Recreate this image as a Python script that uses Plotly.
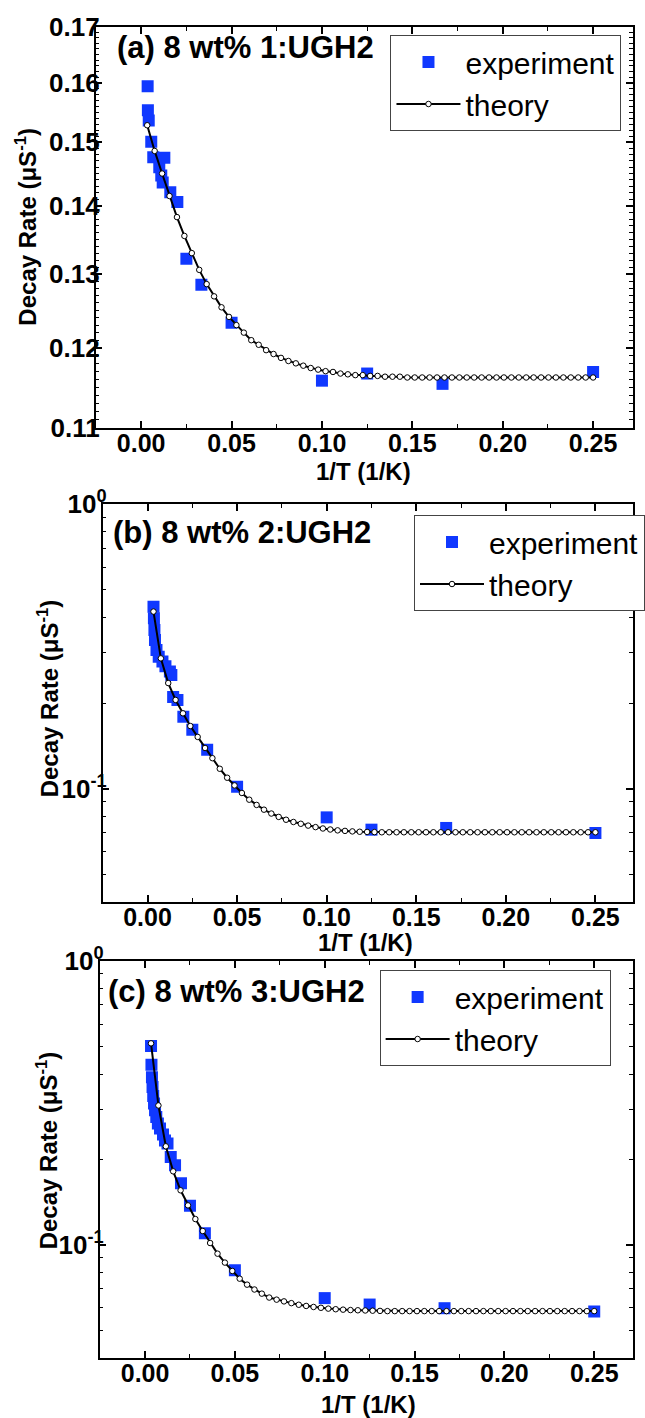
import plotly.graph_objects as go
import numpy as np

# ---------------- data ----------------
THEORY_X = [0.00333, 0.00744, 0.01156, 0.01567, 0.01978, 0.02389, 0.02800, 0.03211, 0.03622, 0.04033,
            0.04444, 0.04856, 0.05267, 0.05678, 0.06089, 0.06500, 0.06911, 0.07322, 0.07733, 0.08144,
            0.08556, 0.08967, 0.09378, 0.09789, 0.10200, 0.10611, 0.11022, 0.11433, 0.11844, 0.12256,
            0.12667, 0.13078, 0.13489, 0.13900, 0.14311, 0.14722, 0.15133, 0.15544, 0.15956, 0.16367,
            0.16778, 0.17189, 0.17600, 0.18011, 0.18422, 0.18833, 0.19244, 0.19656, 0.20067, 0.20478,
            0.20889, 0.21300, 0.21711, 0.22122, 0.22533, 0.22944, 0.23356, 0.23767, 0.24178, 0.24589,
            0.25000]

A_EXP_X = [0.00357, 0.00370, 0.00417, 0.00556, 0.00667, 0.0100, 0.0111, 0.0128, 0.0119, 0.0161,
           0.0200, 0.0250, 0.0333, 0.0500, 0.1000, 0.1250, 0.1667, 0.2500]
A_EXP_Y = [0.1594, 0.1553, 0.1536, 0.1501, 0.1476, 0.1460, 0.1447, 0.1475, 0.1436, 0.1421,
           0.1406, 0.1322, 0.1285, 0.1233, 0.1158, 0.1167, 0.1154, 0.1169]
A_TH_Y = [0.1528, 0.1486, 0.1450, 0.1415, 0.1383, 0.1355, 0.1330, 0.1306, 0.1286, 0.1269,
          0.1254, 0.1241, 0.1230, 0.1220, 0.1210, 0.1204, 0.1197, 0.1192, 0.1187, 0.1183,
          0.1180, 0.1177, 0.1174, 0.1172, 0.1170, 0.1169, 0.1167, 0.1166, 0.1165, 0.1165,
          0.1164, 0.1164, 0.1163, 0.1163, 0.1163, 0.1162, 0.1162, 0.1162, 0.1162, 0.1162,
          0.1162, 0.1162, 0.1162, 0.1162, 0.1162, 0.1162, 0.1162, 0.1162, 0.1162, 0.1162,
          0.1162, 0.1162, 0.1162, 0.1162, 0.1162, 0.1162, 0.1162, 0.1162, 0.1162, 0.1162,
          0.1162]

B_EXP_X = [0.00333, 0.00357, 0.00385, 0.00417, 0.00500, 0.00625, 0.00833, 0.0100, 0.0125, 0.0133,
           0.0143, 0.0167, 0.0200, 0.0250, 0.0333, 0.0500, 0.1000, 0.1250, 0.1667, 0.2500]
B_EXP_Y = [0.436, 0.397, 0.361, 0.333, 0.307, 0.291, 0.280, 0.269, 0.258, 0.251,
           0.210, 0.205, 0.179, 0.161, 0.137, 0.1016, 0.0793, 0.0718, 0.0728, 0.0699]
B_TH_Y = [0.419, 0.287, 0.235, 0.205, 0.184, 0.166, 0.152, 0.139, 0.128, 0.1175,
          0.1093, 0.1027, 0.0966, 0.0915, 0.0877, 0.0844, 0.0818, 0.0796, 0.0778, 0.0764,
          0.0753, 0.0742, 0.0733, 0.0725, 0.0719, 0.0714, 0.0711, 0.0708, 0.0706, 0.0705,
          0.0704, 0.0703, 0.0703, 0.0703, 0.0703, 0.0703, 0.0703, 0.0703, 0.0703, 0.0703,
          0.0703, 0.0703, 0.0703, 0.0703, 0.0703, 0.0703, 0.0703, 0.0703, 0.0703, 0.0703,
          0.0703, 0.0703, 0.0703, 0.0703, 0.0703, 0.0703, 0.0703, 0.0703, 0.0703, 0.0703,
          0.0703]

C_EXP_X = [0.00333, 0.00357, 0.00385, 0.00417, 0.00455, 0.00500, 0.00556, 0.00625, 0.00714, 0.00833,
           0.0100, 0.0111, 0.0125, 0.0143, 0.0167, 0.0200, 0.0250, 0.0333, 0.0500, 0.1000,
           0.1250, 0.1667, 0.2500]
C_EXP_Y = [0.502, 0.431, 0.390, 0.360, 0.335, 0.315, 0.298, 0.282, 0.268, 0.257,
           0.245, 0.2335, 0.2275, 0.204, 0.1908, 0.1650, 0.1375, 0.1100, 0.0815, 0.0650,
           0.0617, 0.0599, 0.0583]
C_TH_Y = [0.513, 0.310, 0.2226, 0.1817, 0.1558, 0.1379, 0.1234, 0.1120, 0.1016, 0.0932,
          0.0867, 0.0810, 0.0761, 0.0725, 0.0697, 0.0674, 0.0653, 0.0642, 0.0633, 0.0624,
          0.0616, 0.0610, 0.0605, 0.0601, 0.0597, 0.0594, 0.0592, 0.0590, 0.0589, 0.0588,
          0.0587, 0.0586, 0.0585, 0.0585, 0.0585, 0.0585, 0.0585, 0.0585, 0.0585, 0.0585,
          0.0585, 0.0585, 0.0585, 0.0585, 0.0585, 0.0585, 0.0585, 0.0585, 0.0585, 0.0585,
          0.0585, 0.0585, 0.0585, 0.0585, 0.0585, 0.0585, 0.0585, 0.0585, 0.0585, 0.0585,
          0.0585]

X_TICK_VALS = [0.00, 0.05, 0.10, 0.15, 0.20, 0.25]
X_TICK_TEXT = ["0.00", "0.05", "0.10", "0.15", "0.20", "0.25"]
A_Y_TICK_VALS = [0.11, 0.12, 0.13, 0.14, 0.15, 0.16, 0.17]
A_Y_TICK_TEXT = ["0.11", "0.12", "0.13", "0.14", "0.15", "0.16", "0.17"]
LOG_TICK_VALS = [0.1, 1.0]
LOG_TICK_TEXT = ["10<sup>-1</sup>", "10<sup>0</sup>"]
LOG_MINOR_VALS = [0.04, 0.05, 0.06, 0.07, 0.08, 0.09, 0.2, 0.3, 0.4, 0.5, 0.6, 0.7, 0.8, 0.9]
A_MINOR_VALS = [round(0.11 + 0.001 * i, 3) for i in range(61)]

PANEL_TITLES = ["(a) 8 wt% 1:UGH2", "(b) 8 wt% 2:UGH2", "(c) 8 wt% 3:UGH2"]
SERIES_NAMES = ["experiment", "theory"]
X_TITLE = "1/T (1/K)"
Y_TITLE = "Decay Rate (\u03bcS<sup>-1</sup>)"

# ---------------- layout geometry ----------------
W, H = 645, 1418
FONT = "Liberation Sans, Arial, sans-serif"
BLUE = "#1038ff"

# (left, right, top, bottom) in px of each plot frame
FRAMES = [(97, 642, 27, 428), (104, 642, 504, 902), (101, 642, 961, 1358)]
XRANGES = [[-0.0252, 0.2721], [-0.0251, 0.2710], [-0.0253, 0.2716]]
YRANGES = [[np.log10(0.11), np.log10(0.17)], [np.log10(0.04), 0.0], [np.log10(0.04), 0.0]]
LEGEND_POS = [(396, 35), (420, 515), (385, 970)]
TITLE_POS = [(117, 48), (113, 532), (108, 991)]
XTITLE_POS = [(369, 471), (371, 942), (374, 1404)]
YTITLE_POS = [(26, 227), (49, 698), (48, 1150)]

fig = go.Figure()

panels = [(A_EXP_X, A_EXP_Y, A_TH_Y), (B_EXP_X, B_EXP_Y, B_TH_Y), (C_EXP_X, C_EXP_Y, C_TH_Y)]
for i, (ex, ey, ty) in enumerate(panels):
    sfx = "" if i == 0 else str(i + 1)
    leg = "legend" + sfx
    fig.add_trace(go.Scatter(
        x=ex, y=ey, mode="markers", name=SERIES_NAMES[0],
        marker=dict(symbol="square", size=12, color=BLUE, line=dict(width=0)),
        xaxis="x" + sfx, yaxis="y" + sfx, legend=leg))
    fig.add_trace(go.Scatter(
        x=THEORY_X, y=ty, mode="lines+markers", name=SERIES_NAMES[1],
        line=dict(color="black", width=2),
        marker=dict(symbol="circle", size=5.5, color="white", line=dict(color="black", width=1)),
        xaxis="x" + sfx, yaxis="y" + sfx, legend=leg))

layout = dict(
    width=W, height=H,
    margin=dict(l=0, r=0, t=0, b=0),
    paper_bgcolor="white", plot_bgcolor="white",
    font=dict(family=FONT, color="black"),
    annotations=[],
)

common = dict(
    showline=True, linecolor="black", linewidth=1.6, mirror="allticks",
    ticks="inside", ticklen=7, tickwidth=1.5, tickcolor="black",
    showgrid=False, zeroline=False, automargin=False,
)

TITLE_FONT = dict(family=FONT, size=24, color="black", weight="bold")

for i in range(3):
    sfx = "" if i == 0 else str(i + 1)
    l, r, t, b = FRAMES[i]
    xa = dict(common)
    xa.update(
        domain=[l / W, r / W], range=XRANGES[i], anchor="y" + sfx,
        tickmode="array", tickvals=X_TICK_VALS, ticktext=X_TICK_TEXT,
        tickfont=dict(family=FONT, size=25, color="black", weight="bold"),
        ticklabelstandoff=-8,
        minor=dict(ticks="inside", ticklen=4, tickwidth=1.2, tickcolor="black", dtick=0.025, tick0=0),
    )
    ya = dict(common)
    if i == 0:
        ya.update(tickmode="array", tickvals=A_Y_TICK_VALS, ticktext=A_Y_TICK_TEXT,
                  minor=dict(ticks="inside", ticklen=4, tickwidth=1.2, tickcolor="black",
                             tickmode="array", tickvals=A_MINOR_VALS))
    else:
        ya.update(tickmode="array", tickvals=LOG_TICK_VALS, ticktext=LOG_TICK_TEXT,
                  minor=dict(ticks="inside", ticklen=4, tickwidth=1.2, tickcolor="black",
                             tickmode="array", tickvals=LOG_MINOR_VALS))
    ya.update(
        type="log", domain=[1 - b / H, 1 - t / H], range=YRANGES[i], anchor="x" + sfx,
        tickfont=dict(family=FONT, size=26, color="black", weight="bold"),
        ticklabelstandoff=-11,
    )
    layout["xaxis" + sfx] = xa
    layout["yaxis" + sfx] = ya

    lx, ly = LEGEND_POS[i]
    layout["legend" + sfx] = dict(
        x=lx / W, y=1 - ly / H, xanchor="left", yanchor="top",
        xref="paper", yref="paper",
        bgcolor="white", bordercolor="#444444", borderwidth=1,
        font=dict(family=FONT, size=30, color="black"),
        itemwidth=64, tracegroupgap=0,
    )
    tx, ty_ = TITLE_POS[i]
    layout["annotations"].append(dict(
        text=PANEL_TITLES[i], x=tx / W, y=1 - ty_ / H, xref="paper", yref="paper",
        xanchor="left", yanchor="middle", showarrow=False,
        font=dict(family=FONT, size=31, color="black", weight="bold"),
    ))
    xx, xy = XTITLE_POS[i]
    layout["annotations"].append(dict(
        text=X_TITLE, x=xx / W, y=1 - xy / H, xref="paper", yref="paper",
        xanchor="center", yanchor="middle", showarrow=False, font=TITLE_FONT,
    ))
    yx, yy = YTITLE_POS[i]
    layout["annotations"].append(dict(
        text=Y_TITLE, x=yx / W, y=1 - yy / H, xref="paper", yref="paper",
        xanchor="center", yanchor="middle", showarrow=False, textangle=-90, font=TITLE_FONT,
    ))

fig.update_layout(**layout)
fig.write_html("out.html")
